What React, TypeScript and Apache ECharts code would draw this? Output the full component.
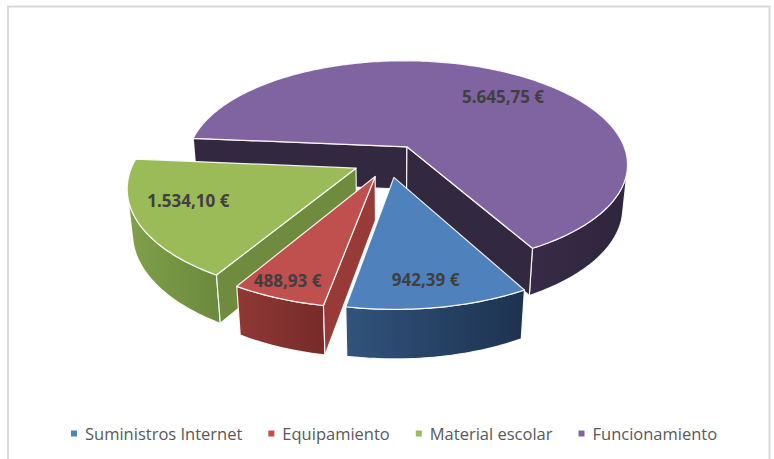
import React, { useEffect, useRef } from "react";
import * as echarts from "echarts";

// ---- data ----
const categories = ["Suministros Internet", "Equipamiento", "Material escolar", "Funcionamiento"];
const values = [942.39, 488.93, 1534.1, 5645.75];

// ---- styles ----
const topColors = ["#4F81BD", "#C0504D", "#9BBB59", "#8064A2"];
const wallColors = [
  ["#31537C", "#1D324F"],
  ["#8F3836", "#772B29"],
  ["#81A04B", "#6A893C"],
  ["#372B47", "#2F253C"],
];
const faceColors = ["#24405F", "#973A38", "#6F8B3D", "#32283F"];
const labelNudge = [1, 1, 5, 9];
const labelRadius = [0.81, 0.88, 0.76, 0.73];

// ---- 3D projection parameters ----
const CX = 388;
const CY = 160.5;
const S = 222;
const ALPHA = 28;
const DIST = 5.4;
const H = 0.225;
const EXPLODE = 0.16;
const START = 151;

const deg = Math.PI / 180;
const sinA = Math.sin(ALPHA * deg);
const cosA = Math.cos(ALPHA * deg);

function fmt(v: number): string {
  const [i, d] = v.toFixed(2).split(".");
  const withSep = i.replace(/\B(?=(\d{3})+(?!\d))/g, ".");
  return `${withSep},${d} €`;
}

function proj(X: number, Y: number, Z: number): [number, number] {
  const z = 1 + (Z * cosA - Y * sinA) / DIST;
  return [CX + (S * X) / z, CY - (S * (Y * cosA + Z * sinA)) / z];
}

const total = values.reduce((a, b) => a + b, 0);
const starts: number[] = [];
{
  let acc = 0;
  for (const v of values) {
    starts.push(START + (acc / total) * 360);
    acc += v;
  }
}

function sliceGroup(k: number, v: number) {
  const sweep = (v / total) * 360;
  const a0 = starts[k];
  const a1 = a0 + sweep;
  const mid = (a0 + a1) / 2;
  const ox = EXPLODE * Math.sin(mid * deg);
  const oz = EXPLODE * Math.cos(mid * deg);
  const rim = (phi: number, y: number) => proj(ox + Math.sin(phi * deg), y, oz + Math.cos(phi * deg));
  const n = Math.max(2, Math.ceil(sweep));
  const phis = Array.from({ length: n + 1 }, (_, i) => a0 + (sweep * i) / n);
  const camZ = -DIST * cosA;
  const facing = (nx: number, nz: number, px: number, pz: number) => nx * (0 - px) + nz * (camZ - pz) > 0;
  const stroke = { stroke: "rgba(255,255,255,0.9)", lineWidth: 1.2, lineJoin: "round" };
  const children: any[] = [];

  // outer wall (visible parts only)
  const runs: number[][] = [];
  let run: number[] = [];
  for (let i = 0; i < n; i++) {
    const p = (phis[i] + phis[i + 1]) / 2;
    const s = Math.sin(p * deg);
    const c = Math.cos(p * deg);
    if (facing(s, c, ox + s, oz + c)) {
      if (run.length === 0) run.push(phis[i]);
      run.push(phis[i + 1]);
    } else if (run.length) {
      runs.push(run);
      run = [];
    }
  }
  if (run.length) runs.push(run);
  for (const r of runs) {
    const top = r.map((p) => rim(p, 0));
    const bot = r.map((p) => rim(p, -H)).reverse();
    const pts = top.concat(bot);
    const xs = pts.map((p) => p[0]);
    const x0 = Math.min(...xs);
    const x1 = Math.max(...xs);
    children.push({
      type: "polygon",
      shape: { points: pts },
      style: {
        fill: new echarts.graphic.LinearGradient(
          x0, 0, x1, 0,
          [
            { offset: 0, color: wallColors[k][0] },
            { offset: 1, color: wallColors[k][1] },
          ],
          true
        ),
        ...stroke,
      },
    });
  }

  // radial faces
  const apexT = proj(ox, 0, oz);
  const apexB = proj(ox, -H, oz);
  const faces: [number, number][] = [
    [a0, a0 - 90],
    [a1, a1 + 90],
  ];
  for (const [phi, nphi] of faces) {
    const nx = Math.sin(nphi * deg);
    const nz = Math.cos(nphi * deg);
    const px = ox + 0.5 * Math.sin(phi * deg);
    const pz = oz + 0.5 * Math.cos(phi * deg);
    if (facing(nx, nz, px, pz)) {
      children.push({
        type: "polygon",
        shape: { points: [apexT, rim(phi, 0), rim(phi, -H), apexB] },
        style: { fill: faceColors[k], ...stroke },
      });
    }
  }

  // top face
  children.push({
    type: "polygon",
    shape: { points: [apexT, ...phis.map((p) => rim(p, 0))] },
    style: { fill: topColors[k], ...stroke },
  });

  // label
  const la = (mid + labelNudge[k]) * deg;
  const lr = labelRadius[k];
  const lp = proj(ox + lr * Math.sin(la), 0, oz + lr * Math.cos(la));
  children.push({
    type: "text",
    x: lp[0],
    y: lp[1],
    z2: 100,
    style: {
      text: fmt(v),
      fill: "#404040",
      fontFamily: "Open Sans",
      fontWeight: "bold",
      fontSize: 17,
      align: "center",
      verticalAlign: "middle",
    },
  });

  return { type: "group", children };
}

export default function App() {
  const ref = useRef<HTMLDivElement>(null);
  useEffect(() => {
    if (!ref.current) return;
    const chart = echarts.init(ref.current, undefined, { renderer: "svg" });
    // draw far slices first
    const order = values
      .map((v, k) => {
        const mid = starts[k] + ((v / total) * 360) / 2;
        return { k, oz: Math.cos(mid * deg) };
      })
      .sort((a, b) => b.oz - a.oz)
      .map((o) => o.k);

    const series = order.map((k) => ({
      type: "custom",
      name: categories[k],
      coordinateSystem: "none",
      silent: true,
      itemStyle: { color: topColors[k] },
      data: [values[k]],
      renderItem: (_params: any, api: any) => sliceGroup(k, api.value(0)),
    }));

    chart.setOption({
      animation: false,
      backgroundColor: "#ffffff",
      legend: {
        data: categories,
        left: 71,
        top: 425,
        padding: 0,
        icon: "rect",
        itemWidth: 6,
        itemHeight: 6,
        itemGap: 26,
        selectedMode: false,
        textStyle: {
          fontFamily: "Open Sans",
          fontSize: 16.5,
          color: "#595959",
          padding: [0, 0, 0, 3],
        },
      },
      graphic: [
        {
          type: "rect",
          shape: { x: 8, y: 6.5, width: 761.5, height: 500 },
          style: { fill: "none", stroke: "#D9D9D9", lineWidth: 2 },
          silent: true,
        },
      ],
      series,
    });
    return () => chart.dispose();
  }, []);
  return (
    <div
      ref={ref}
      style={{ position: "absolute", left: 0, top: 0, width: 774, height: 459 }}
    />
  );
}
